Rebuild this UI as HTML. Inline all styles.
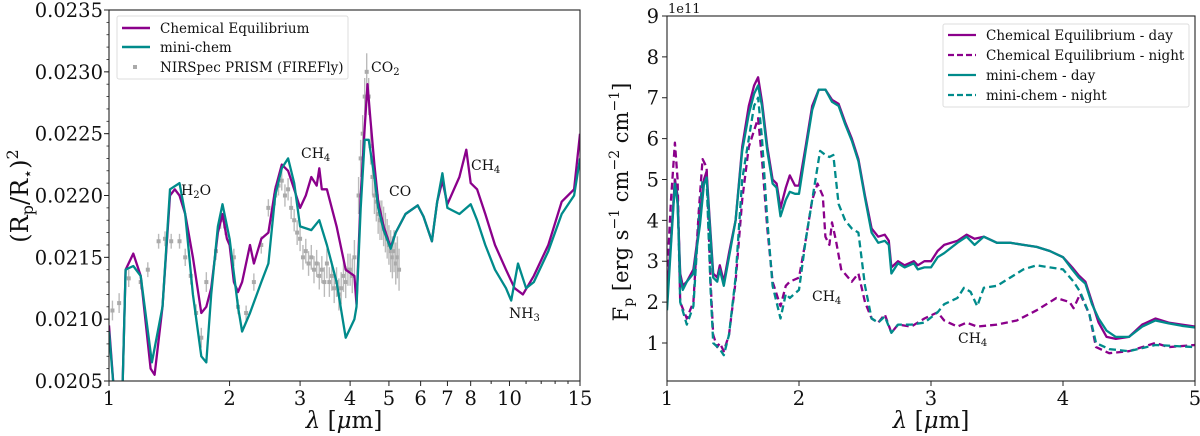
<!DOCTYPE html>
<html><head><meta charset="utf-8">
<style>
html,body{margin:0;padding:0;background:#fff;}
svg{display:block;font-family:"DejaVu Serif","Liberation Serif",serif;}
</style></head>
<body>
<svg id="c" width="1200" height="436" viewBox="0 0 1200 436" xmlns="http://www.w3.org/2000/svg"></svg>
<script>
// ---------- Left panel data ----------
const leftEqLam=[1.0,1.03,1.08,1.1,1.15,1.2,1.27,1.3,1.36,1.42,1.46,1.5,1.55,1.62,1.7,1.75,1.8,1.87,1.92,1.97,2.0,2.05,2.1,2.15,2.25,2.3,2.4,2.5,2.6,2.7,2.8,2.9,3.0,3.1,3.2,3.3,3.35,3.4,3.5,3.7,3.9,4.1,4.15,4.25,4.35,4.42,4.5,4.6,4.7,4.85,5.05,5.2,5.5,5.9,6.1,6.4,6.6,6.8,7.0,7.5,7.8,8.0,8.3,8.7,9.2,9.8,10.3,10.8,11.5,12.5,13.5,14.5,15];
const leftEqVal=[0.02095,0.0204,0.0204,0.02140,0.02153,0.02135,0.02060,0.02055,0.02110,0.02200,0.02205,0.02200,0.02185,0.02150,0.02105,0.02110,0.02125,0.02170,0.02185,0.02165,0.02160,0.02130,0.02122,0.02130,0.02160,0.02145,0.02165,0.02170,0.02205,0.02225,0.02220,0.02205,0.02190,0.02200,0.02215,0.02208,0.02222,0.02205,0.02205,0.02175,0.02140,0.02135,0.02112,0.02200,0.02255,0.02290,0.02260,0.02225,0.02195,0.02175,0.02158,0.02170,0.02185,0.02192,0.02183,0.02163,0.02195,0.02212,0.02193,0.02215,0.02237,0.02210,0.02205,0.02185,0.02160,0.02140,0.02125,0.02120,0.02135,0.02160,0.02195,0.02205,0.02250];
const leftMcLam=[1.0,1.03,1.08,1.1,1.15,1.2,1.28,1.36,1.42,1.5,1.55,1.62,1.7,1.75,1.8,1.87,1.92,2.0,2.1,2.15,2.25,2.4,2.5,2.6,2.7,2.8,2.9,3.0,3.2,3.35,3.5,3.7,3.9,4.1,4.15,4.25,4.35,4.45,4.6,4.7,4.85,5.05,5.2,5.5,5.9,6.1,6.4,6.6,6.8,7.0,7.5,8.0,8.3,8.7,9.2,9.8,10.1,10.5,11,11.5,12.5,13.5,14.5,15];
const leftMcVal=[0.0209,0.0204,0.0204,0.02140,0.02143,0.02135,0.02065,0.02110,0.02205,0.02210,0.02185,0.02120,0.02070,0.02065,0.02120,0.02175,0.02193,0.02165,0.02110,0.02090,0.02105,0.02130,0.02145,0.02200,0.02222,0.02230,0.02210,0.02175,0.02172,0.02180,0.02160,0.02130,0.02085,0.02100,0.02110,0.02190,0.02245,0.02245,0.02215,0.02190,0.02172,0.02157,0.02170,0.02185,0.02192,0.02183,0.02163,0.02195,0.02218,0.02190,0.02185,0.02193,0.02180,0.02160,0.02140,0.02125,0.02115,0.02145,0.02125,0.02130,0.02155,0.02185,0.02200,0.02230];
const obsLam=[1.02,1.06,1.12,1.2,1.25,1.33,1.38,1.43,1.5,1.55,1.6,1.65,1.7,1.75,1.85,1.9,1.95,2.05,2.1,2.2,2.3,2.4,2.5,2.6,2.65,2.7,2.75,2.8,2.85,2.9,2.95,3.0,3.05,3.1,3.15,3.2,3.25,3.3,3.35,3.4,3.45,3.5,3.55,3.6,3.65,3.7,3.75,3.8,3.85,3.9,3.95,4.0,4.05,4.1,4.2,4.25,4.3,4.35,4.4,4.45,4.5,4.55,4.6,4.65,4.7,4.75,4.8,4.85,4.9,4.95,5.0,5.05,5.1,5.15,5.2,5.25,5.3];
const obsVal=[0.02107,0.02113,0.02133,0.02130,0.02140,0.02163,0.02165,0.02163,0.02163,0.02150,0.02135,0.02105,0.02085,0.02130,0.02155,0.02180,0.02175,0.02150,0.02110,0.02105,0.02130,0.02160,0.02190,0.02200,0.02208,0.02212,0.02200,0.02205,0.02190,0.02180,0.02170,0.02165,0.02150,0.02155,0.02145,0.02150,0.02140,0.02145,0.02135,0.02140,0.02130,0.02145,0.02130,0.02135,0.02125,0.02130,0.02120,0.02125,0.02135,0.02130,0.02140,0.02140,0.02135,0.02150,0.02200,0.02230,0.02250,0.02280,0.02300,0.02280,0.02240,0.02215,0.02200,0.02195,0.02185,0.02180,0.02180,0.02175,0.02170,0.02165,0.02160,0.02155,0.02150,0.02155,0.02145,0.02150,0.02140];
const obsErr=[0.00008,0.00008,0.00007,0.00006,0.00006,0.00006,0.00006,0.00006,0.00006,0.00007,0.00007,0.00007,0.00008,0.00008,0.00007,0.00007,0.00007,0.00007,0.00006,0.00006,0.00007,0.00007,0.00007,0.00008,0.00008,0.00008,0.00009,0.00009,0.00009,0.00009,0.0001,0.0001,0.0001,0.0001,0.0001,0.0001,0.00011,0.00011,0.00011,0.00011,0.00012,0.00012,0.00012,0.00012,0.00012,0.00012,0.00013,0.00013,0.00013,0.00013,0.00013,0.00013,0.00014,0.00014,0.00015,0.00015,0.00015,0.00015,0.00015,0.00015,0.00015,0.00015,0.00015,0.00016,0.00016,0.00016,0.00016,0.00016,0.00016,0.00016,0.00016,0.00017,0.00017,0.00017,0.00017,0.00017,0.00017];
const leftYTicks=[0.0205,0.0210,0.0215,0.0220,0.0225,0.0230,0.0235];
const leftYTickLabels=["0.0205","0.0210","0.0215","0.0220","0.0225","0.0230","0.0235"];
const leftXTicks=[1,2,3,4,5,6,7,8,10,15];
const leftXTickLabels=["1","2","3","4","5","6","7","8","10","15"];

// ---------- Right panel data ----------
const rEqDayLam=[1.0,1.03,1.06,1.08,1.1,1.12,1.15,1.2,1.25,1.28,1.3,1.32,1.35,1.38,1.4,1.43,1.47,1.52,1.57,1.62,1.66,1.69,1.72,1.76,1.8,1.83,1.86,1.9,1.93,1.97,2.0,2.05,2.1,2.15,2.2,2.25,2.3,2.35,2.4,2.45,2.5,2.55,2.6,2.65,2.68,2.7,2.75,2.8,2.87,2.9,2.95,3.0,3.05,3.1,3.2,3.27,3.33,3.4,3.5,3.6,3.7,3.8,3.9,4.0,4.07,4.12,4.17,4.22,4.27,4.33,4.4,4.5,4.6,4.7,4.8,4.9,5.0];
const rEqDayVal=[2.2,3.5,5.0,4.5,2.7,2.4,2.5,2.8,4.0,5.0,5.2,4.2,2.7,2.6,2.9,2.5,3.2,4.0,5.8,6.8,7.3,7.5,6.9,5.8,5.0,4.9,4.3,4.8,5.1,4.85,4.85,5.8,6.8,7.2,7.2,6.95,6.85,6.4,6.0,5.5,4.6,3.8,3.6,3.65,3.5,2.85,3.0,2.9,3.0,2.9,3.0,3.0,3.25,3.4,3.5,3.65,3.55,3.6,3.45,3.45,3.4,3.35,3.25,3.1,2.85,2.65,2.5,2.0,1.5,1.15,1.1,1.15,1.45,1.6,1.5,1.45,1.4];
const rMcDayLam=rEqDayLam;
const rMcDayVal=[1.8,3.4,4.9,4.4,2.6,2.3,2.5,2.7,3.9,4.9,5.05,4.1,2.6,2.5,2.8,2.4,3.1,4.0,5.7,6.6,7.1,7.3,6.8,5.7,4.9,4.8,4.1,4.5,4.7,4.65,4.65,5.7,6.7,7.2,7.2,6.9,6.8,6.35,5.95,5.45,4.55,3.7,3.45,3.5,3.4,2.7,2.95,2.85,2.95,2.8,2.85,2.85,3.1,3.2,3.45,3.6,3.4,3.6,3.45,3.45,3.4,3.35,3.25,3.1,2.8,2.6,2.45,1.95,1.6,1.3,1.15,1.15,1.4,1.55,1.48,1.42,1.38];
const rEqNightLam=[1.0,1.03,1.06,1.08,1.1,1.15,1.2,1.24,1.27,1.3,1.33,1.35,1.38,1.4,1.43,1.47,1.52,1.57,1.62,1.66,1.69,1.72,1.76,1.8,1.86,1.9,1.93,2.0,2.05,2.1,2.14,2.18,2.2,2.23,2.25,2.28,2.32,2.4,2.45,2.5,2.55,2.6,2.65,2.7,2.75,2.85,2.95,3.05,3.1,3.2,3.27,3.35,3.5,3.65,3.8,3.95,4.05,4.08,4.13,4.2,4.25,4.35,4.5,4.7,4.8,5.0];
const rEqNightVal=[2.6,4.5,5.9,5.0,2.0,1.6,2.0,4.2,5.5,5.3,2.5,1.2,0.9,1.0,0.8,1.2,2.5,4.5,5.8,6.2,6.5,5.5,3.8,2.5,1.9,2.4,2.5,2.6,3.5,4.5,4.9,4.6,3.6,3.4,3.95,3.5,2.8,2.5,2.7,2.0,1.6,1.5,1.7,1.25,1.45,1.4,1.6,1.75,1.55,1.4,1.5,1.4,1.45,1.55,1.8,2.1,2.0,1.85,2.2,1.7,0.9,0.75,0.8,1.0,0.9,0.95];
const rMcNightLam=[1.0,1.03,1.06,1.08,1.1,1.15,1.2,1.24,1.27,1.3,1.33,1.35,1.4,1.43,1.47,1.52,1.57,1.62,1.66,1.69,1.72,1.76,1.8,1.86,1.9,1.93,2.0,2.05,2.1,2.16,2.2,2.23,2.26,2.3,2.35,2.4,2.45,2.5,2.55,2.6,2.65,2.7,2.75,2.85,2.95,3.05,3.1,3.2,3.25,3.3,3.35,3.4,3.5,3.6,3.7,3.8,3.9,4.0,4.08,4.13,4.2,4.25,4.35,4.5,4.7,5.0];
const rMcNightVal=[2.0,3.5,5.0,4.6,2.0,1.45,1.9,4.0,5.0,5.0,2.3,1.0,0.85,0.7,1.2,2.6,5.0,6.0,6.8,7.0,6.0,4.0,2.4,1.6,2.2,2.1,2.3,3.5,4.5,5.7,5.6,5.55,5.6,4.4,4.0,3.8,3.7,2.4,1.6,1.5,1.65,1.25,1.45,1.45,1.5,1.75,1.95,2.1,2.35,2.25,1.9,2.35,2.4,2.6,2.8,2.9,2.85,2.8,2.5,2.25,1.7,1.0,0.85,0.8,0.95,0.9];
const rightYTicks=[1,2,3,4,5,6,7,8,9];
const rightYTickLabels=["1","2","3","4","5","6","7","8","9"];
const rightXTicks=[1,2,3,4,5];
const rightXTickLabels=["1","2","3","4","5"];

const PURPLE="#8b008b", TEAL="#008b8b";
const svg=document.getElementById('c');
const NS="http://www.w3.org/2000/svg";
function mk(tag,attrs,parent){const e=document.createElementNS(NS,tag);for(const k in attrs)e.setAttribute(k,attrs[k]);(parent||svg).appendChild(e);return e;}

// ---------- Left axes ----------
const L={x0:109,x1:580,y0:10,y1:381};
const lx=v=>L.x0+(Math.log10(v)/Math.log10(15))*(L.x1-L.x0);
const ly=v=>L.y1-(v-0.0205)/(0.0235-0.0205)*(L.y1-L.y0);
const gL=mk('g',{});


const clipL=mk('clipPath',{id:'clipL'});mk('rect',{x:L.x0,y:L.y0,width:L.x1-L.x0,height:L.y1-L.y0},clipL);

const gObs=mk('g',{'clip-path':'url(#clipL)'},gL);


obsLam.forEach((l,i)=>{
  const x=lx(l),y=ly(obsVal[i]);
  const eb=mk('line',{x1:x,x2:x,y1:ly(obsVal[i]-obsErr[i]),y2:ly(obsVal[i]+obsErr[i]),stroke:'#bbb','stroke-width':1.4},gObs);
  
  
  const r=mk('rect',{x:x-2,y:y-2,width:4,height:4,fill:'#aaa'},gObs);
  
  
});
function line(g,lams,vals,fx,fy,color,dash,name,clip){
  const d=lams.map((l,i)=>(i?'L':'M')+fx(l).toFixed(1)+','+fy(vals[i]).toFixed(1)).join('');
  const p=mk('path',{d:d,fill:'none',stroke:color,'stroke-width':2.3,'stroke-linejoin':'round','clip-path':clip},g);
  if(dash)p.setAttribute('stroke-dasharray',dash);
  
  
}
line(gL,leftEqLam,leftEqVal,lx,ly,PURPLE,null,'chem-eq-line','url(#clipL)');
line(gL,leftMcLam,leftMcVal,lx,ly,TEAL,null,'mini-chem-line','url(#clipL)');
mk('rect',{x:L.x0,y:L.y0,width:L.x1-L.x0,height:L.y1-L.y0,fill:'none',stroke:'#222','stroke-width':1.1},gL);

leftYTicks.forEach((v,i)=>{
  const y=ly(v);
  mk('line',{x1:L.x0-5,x2:L.x0,y1:y,y2:y,stroke:'#222'},gL);
  const t=mk('text',{x:L.x0-6,y:y+7,'text-anchor':'end','font-size':19.5,fill:'#111'},gL);t.textContent=leftYTickLabels[i];
  
  
});
for(let v=0.0205;v<0.02351;v+=0.0001){const y=ly(v);mk('line',{x1:L.x0-2.5,x2:L.x0,y1:y,y2:y,stroke:'#222','stroke-width':0.8},gL);}
leftXTicks.forEach((v,i)=>{
  const x=lx(v);
  mk('line',{x1:x,x2:x,y1:L.y1,y2:L.y1+5,stroke:'#222'},gL);
  const t=mk('text',{x:x,y:L.y1+24,'text-anchor':'middle','font-size':19.5,fill:'#111'},gL);t.textContent=leftXTickLabels[i];
  
  
});
[9,11,12,13,14].forEach(v=>{const x=lx(v);mk('line',{x1:x,x2:x,y1:L.y1,y2:L.y1+3,stroke:'#222'},gL);});
let t=mk('text',{x:344,y:428,'text-anchor':'middle','font-size':23,fill:'#111'},gL);
t.innerHTML='<tspan font-style="italic">λ</tspan> [<tspan font-style="italic">μ</tspan>m]';

t=mk('text',{transform:'translate(28,196) rotate(-90)','text-anchor':'middle','font-size':24,fill:'#111'},gL);
t.innerHTML='(R<tspan font-size="16" dy="5">p</tspan><tspan dy="-5">/R</tspan><tspan font-size="16" dy="5">⋆</tspan><tspan dy="-5">)</tspan><tspan font-size="16" dy="-10">2</tspan>';


function ann(g,x,y,main,sub,name){const a=mk('text',{x:x,y:y,'font-size':14,fill:'#111'},g);a.innerHTML=main+(sub?'<tspan font-size="10" dy="3">'+sub+'</tspan>':'');}
function ann2(g,x,y,a1,sub,a2,name){const a=mk('text',{x:x,y:y,'font-size':14,fill:'#111'},g);a.innerHTML=a1+'<tspan font-size="10" dy="3">'+sub+'</tspan><tspan dy="-3">'+a2+'</tspan>';}
ann2(gL,181,195,'H','2','O','h2o-label');
ann(gL,301,158,'CH','4','ch4-label-1');
ann(gL,371,72,'CO','2','co2-label');
ann(gL,389,196,'CO','','co-label');
ann(gL,471,170,'CH','4','ch4-label-2');
ann(gL,509,318,'NH','3','nh3-label');

const lg=mk('g',{},gL);
mk('rect',{x:117,y:16,width:231,height:63,fill:'#fff','fill-opacity':0.85,stroke:'#ddd',rx:2},lg);
[[PURPLE,'Chemical Equilibrium',28],[TEAL,'mini-chem',47]].forEach(([c,s,y])=>{
  mk('line',{x1:122,x2:150,y1:y,y2:y,stroke:c,'stroke-width':2.4},lg);
  const e=mk('text',{x:160,y:y+5,'font-size':13.5,fill:'#111'},lg);e.textContent=s;
});
mk('rect',{x:133,y:65,width:4,height:4,fill:'#aaa'},lg);
let e=mk('text',{x:160,y:72,'font-size':13.5,fill:'#111'},lg);e.textContent='NIRSpec PRISM (FIREFly)';

// ---------- Right axes ----------
const R={x0:667,x1:1195,y0:16,y1:381};
const rx=v=>R.x0+(v-1)/4*(R.x1-R.x0);
const ry=v=>R.y1-(v-0.07)/(9-0.07)*(R.y1-R.y0);
const gR=mk('g',{});
const clipR=mk('clipPath',{id:'clipR'});mk('rect',{x:R.x0,y:R.y0,width:R.x1-R.x0,height:R.y1-R.y0},clipR);
line(gR,rEqNightLam,rEqNightVal,rx,ry,PURPLE,'7,4','chem-eq-night-line','url(#clipR)');
line(gR,rMcNightLam,rMcNightVal,rx,ry,TEAL,'7,4','mini-chem-night-line','url(#clipR)');
line(gR,rEqDayLam,rEqDayVal,rx,ry,PURPLE,null,'chem-eq-day-line','url(#clipR)');
line(gR,rMcDayLam,rMcDayVal,rx,ry,TEAL,null,'mini-chem-day-line','url(#clipR)');
mk('rect',{x:R.x0,y:R.y0,width:R.x1-R.x0,height:R.y1-R.y0,fill:'none',stroke:'#222','stroke-width':1.1},gR);
rightYTicks.forEach((v,i)=>{
  const y=ry(v);mk('line',{x1:R.x0-5,x2:R.x0,y1:y,y2:y,stroke:'#222'},gR);
  const t=mk('text',{x:R.x0-8,y:y+7,'text-anchor':'end','font-size':19.5,fill:'#111'},gR);t.textContent=rightYTickLabels[i];
  
});
rightXTicks.forEach((v,i)=>{
  const x=rx(v);mk('line',{x1:x,x2:x,y1:R.y1,y2:R.y1+5,stroke:'#222'},gR);
  const t=mk('text',{x:x,y:R.y1+24,'text-anchor':'middle','font-size':19.5,fill:'#111'},gR);t.textContent=rightXTickLabels[i];
  
});
t=mk('text',{x:668,y:13,'font-size':13,fill:'#111'},gR);t.textContent='1e11';
t=mk('text',{x:931,y:428,'text-anchor':'middle','font-size':23,fill:'#111'},gR);
t.innerHTML='<tspan font-style="italic">λ</tspan> [<tspan font-style="italic">μ</tspan>m]';

t=mk('text',{transform:'translate(628,202) rotate(-90)','text-anchor':'middle','font-size':21,fill:'#111'},gR);
t.innerHTML='F<tspan font-size="14" dy="5">p</tspan><tspan dy="-5"> [erg s</tspan><tspan font-size="14" dy="-9">−1</tspan><tspan dy="9"> cm</tspan><tspan font-size="14" dy="-9">−2</tspan><tspan dy="9"> cm</tspan><tspan font-size="14" dy="-9">−1</tspan><tspan dy="9">]</tspan>';

ann(gR,812,301,'CH','4','ch4-label-day');
ann(gR,958,343,'CH','4','ch4-label-night');
const rg=mk('g',{},gR);
mk('rect',{x:943,y:24,width:246,height:83,fill:'#fff','fill-opacity':0.85,stroke:'#ddd',rx:2},rg);
[[PURPLE,null,'Chemical Equilibrium - day',35],[PURPLE,'6,3','Chemical Equilibrium - night',55],[TEAL,null,'mini-chem - day',75],[TEAL,'6,3','mini-chem - night',95]].forEach(([c,d,s,y])=>{
  const l=mk('line',{x1:948,x2:976,y1:y,y2:y,stroke:c,'stroke-width':2.2},rg);if(d)l.setAttribute('stroke-dasharray',d);
  const e=mk('text',{x:986,y:y+5,'font-size':13.5,fill:'#111'},rg);e.textContent=s;
});
</script>
</body></html>
